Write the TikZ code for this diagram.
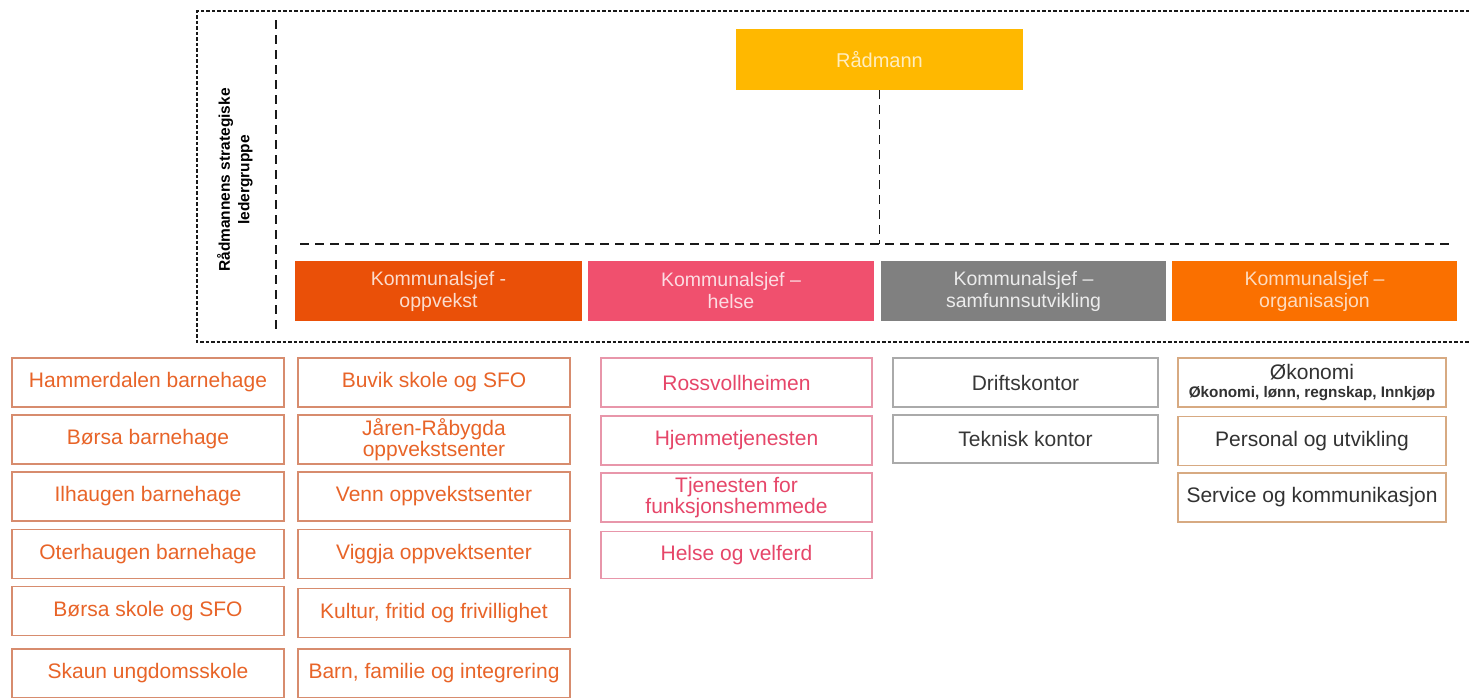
\documentclass[tikz,border=0pt]{standalone}
\usepackage{fontspec}
\setmainfont{Liberation Sans}
\definecolor{radc}{RGB}{255,184,0}
\definecolor{oppc}{RGB}{234,80,8}
\definecolor{helc}{RGB}{240,80,110}
\definecolor{samc}{RGB}{128,128,128}
\definecolor{orgc}{RGB}{250,112,0}
\definecolor{oppt}{RGB}{232,100,40}
\definecolor{oppb}{RGB}{215,140,110}
\definecolor{helt}{RGB}{230,70,105}
\definecolor{helb}{RGB}{232,150,170}
\definecolor{samt}{RGB}{55,55,55}
\definecolor{samb}{RGB}{170,170,170}
\definecolor{orgt}{RGB}{50,50,50}
\definecolor{orgb}{RGB}{215,170,130}
\tikzset{
  outerline/.style={line width=2pt, dash pattern=on 3.5pt off 2pt, black!90},
  innerline/.style={line width=1.8pt, dash pattern=on 9pt off 6pt, black!90},
  headbox/.style={rectangle, inner sep=0pt, align=center, minimum width=287pt, minimum height=60pt,
    font=\fontsize{19.5}{22}\selectfont},
  unitbox/.style={rectangle, draw, line width=1.3pt, fill=white, inner sep=0pt, align=center,
    minimum height=49pt, font=\fontsize{21}{21.5}\selectfont},
  oppbox/.style={unitbox, draw=oppb, text=oppt, minimum width=272pt},
  helbox/.style={unitbox, draw=helb, text=helt, minimum width=271pt},
  sambox/.style={unitbox, draw=samb, text=samt, minimum width=265pt},
  orgbox/.style={unitbox, draw=orgb, text=orgt, minimum width=268pt},
}
\begin{document}
\begin{tikzpicture}[x=1pt,y=-1pt]
\useasboundingbox (0,0) rectangle (1470,697);
\fill[white] (0,0) rectangle (1470,697);
% outer group frame
\draw[outerline] (1480,11) -- (197,11) -- (197,342) -- (1480,342);
\draw[innerline] (276,20) -- (276,332);
\node[rotate=90, align=center, font=\bfseries\fontsize{15.5}{19.5}\selectfont] (grp) at (235,180)
  {Rådmannens strategiske\\ledergruppe};
% top
\node[rectangle, fill=radc, text=white!75!radc, minimum width=287pt, minimum height=61pt,
  font=\fontsize{20}{22}\selectfont] (rad) at (879.5,59.5) {Rådmann};
\coordinate (hl) at (300,244);
\coordinate (hr) at (1452,244);
\draw[innerline] (rad.south) -- (rad.south |- hl);
\draw[innerline] (hl) -- (hr);
% heads
\node[headbox, fill=oppc, text=white!80!oppc] (opp) at (438.5,291) {Kommunalsjef -\\oppvekst};
\node[headbox, fill=helc, text=white!80!helc, minimum width=286pt] (hel) at (731,291) {Kommunalsjef –\\helse};
\node[headbox, fill=samc, text=white!85!samc, minimum width=285pt] (sam) at (1023.5,291) {Kommunalsjef –\\samfunnsutvikling};
\node[headbox, fill=orgc, text=white!75!orgc, minimum width=285pt] (org) at (1314.5,291) {Kommunalsjef –\\organisasjon};
% column 1
\node[oppbox] (a1) at (148,382.5) {Hammerdalen barnehage};
\node[oppbox] (a2) at (148,439.5) {Børsa barnehage};
\node[oppbox] (a3) at (148,496.5) {Ilhaugen barnehage};
\node[oppbox] (a4) at (148,554) {Oterhaugen barnehage};
\node[oppbox] (a5) at (148,611) {Børsa skole og SFO};
\node[oppbox] (a6) at (148,673.5) {Skaun ungdomsskole};
% column 2
\node[oppbox] (b1) at (434,382.5) {Buvik skole og SFO};
\node[oppbox] (b2) at (434,439.5) {Jåren-Råbygda\\oppvekstsenter};
\node[oppbox] (b3) at (434,496.5) {Venn oppvekstsenter};
\node[oppbox] (b4) at (434,554) {Viggja oppvektsenter};
\node[oppbox] (b5) at (434,613) {Kultur, fritid og frivillighet};
\node[oppbox] (b6) at (434,673.5) {Barn, familie og integrering};
% column 3
\node[helbox] (c1) at (736.5,382.5) {Rossvollheimen};
\node[helbox] (c2) at (736.5,440.5) {Hjemmetjenesten};
\node[helbox] (c3) at (736.5,497.5) {Tjenesten for\\funksjonshemmede};
\node[helbox, minimum height=47pt] (c4) at (736.5,555) {Helse og velferd};
% column 4
\node[sambox] (d1) at (1025.5,382.5) {Driftskontor};
\node[sambox, minimum height=48pt] (d2) at (1025.5,439) {Teknisk kontor};
% column 5
\node[orgbox] (e1) at (1312,382.5) {Økonomi\\[-3pt]{\bfseries\fontsize{15.3}{16}\selectfont Økonomi, lønn, regnskap, Innkjøp}};
\node[orgbox] (e2) at (1312,441) {Personal og utvikling};
\node[orgbox] (e3) at (1312,497.5) {Service og kommunikasjon};
\end{tikzpicture}
\end{document}
